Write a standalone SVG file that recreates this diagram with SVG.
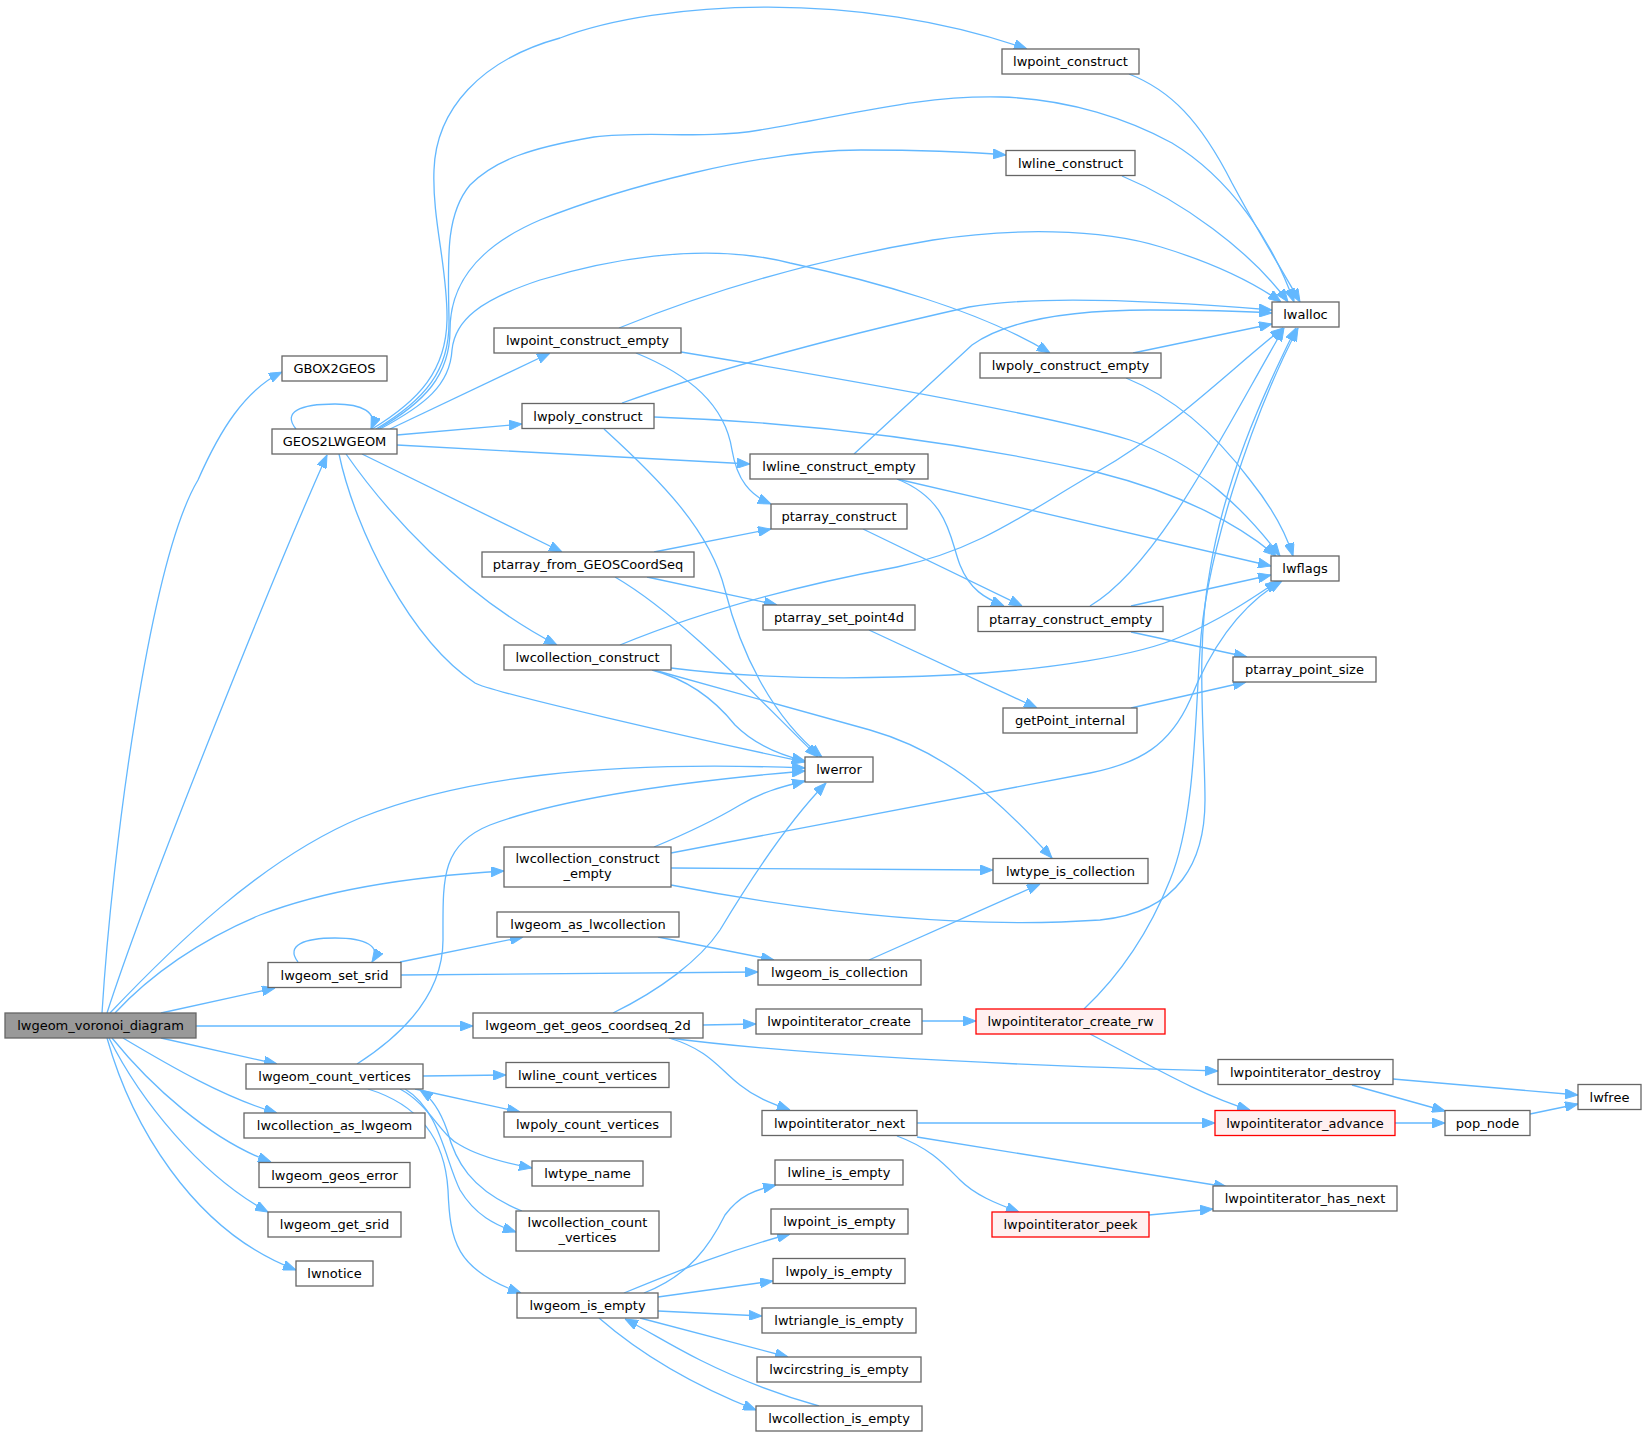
<svg xmlns="http://www.w3.org/2000/svg" width="1647" height="1437" viewBox="0 0 1647 1437">
<defs>
<marker id="a" viewBox="0 0 13 10" refX="13" refY="5" markerWidth="13" markerHeight="10" orient="auto" markerUnits="userSpaceOnUse"><path d="M0,0 L13,5 L0,10 z" fill="#63b8ff" stroke="#63b8ff" stroke-width="1"/></marker>
</defs>
<style>
.e{fill:none;stroke:#63b8ff;stroke-width:1.3;marker-end:url(#a)}
.n rect{fill:#ffffff;stroke:#666666;stroke-width:1.3}
.r rect{fill:#fff0f0;stroke:#ff0000;stroke-width:1.3}
.root rect{fill:#999999;stroke:#666666;stroke-width:1.3}
text{font-family:"DejaVu Sans","Liberation Sans",sans-serif;font-size:13px;fill:#000000;text-anchor:middle}
</style>
<rect x="0" y="0" width="1647" height="1437" fill="#ffffff"/>
<g id="edges">
<path class="e" d="M102,1013 C112,850 150,560 198,480 C220,430 245,390 282,372"/>
<path class="e" d="M107,1013 C150,880 280,560 327,455"/>
<path class="e" d="M110,1013 C170,950 260,860 360,818 C460,778 600,760 805,768"/>
<path class="e" d="M115,1013 C150,975 200,940 260,915 C330,888 420,876 504,871"/>
<path class="e" d="M161,1013 L275,988"/>
<path class="e" d="M196,1026 L473,1026"/>
<path class="e" d="M161,1038 L277,1064"/>
<path class="e" d="M123,1038 C170,1066 225,1098 277,1113"/>
<path class="e" d="M112,1038 C150,1085 210,1140 271,1162"/>
<path class="e" d="M109,1038 C140,1100 200,1175 268,1212"/>
<path class="e" d="M107,1038 C130,1120 190,1230 296,1270"/>
<path class="e" d="M296,429 C282,412 300,404 335,404 C362,404 378,412 371,429"/>
<path class="e" d="M372,429 C420,400 446,370 447,320 C448,270 432,220 434,170 C436,110 480,60 560,38 C660,0 860,-10 1027,49"/>
<path class="e" d="M376,429 C425,400 450,370 449,320 C448,260 445,215 470,185 C495,160 530,148 594,137 C650,130 700,140 760,130 C850,115 920,95 1001,97 C1070,99 1130,120 1172,143 C1230,178 1272,240 1294,302"/>
<path class="e" d="M378,429 C425,402 450,375 450,330 C450,290 470,250 540,220 C620,188 760,150 861,150 C920,150 970,152 1006,155"/>
<path class="e" d="M380,429 C425,405 450,385 452,350 C455,320 480,300 540,280 C600,262 700,240 790,263 C870,280 980,310 1050,353"/>
<path class="e" d="M390,429 L550,353"/>
<path class="e" d="M397,435 L522,424"/>
<path class="e" d="M397,445 L750,464"/>
<path class="e" d="M362,454 L562,552"/>
<path class="e" d="M346,454 C385,510 460,595 557,645"/>
<path class="e" d="M339,454 C355,530 410,640 475,683 C490,692 700,740 805,762"/>
<path class="e" d="M1129,74 C1170,90 1200,120 1232,183 C1260,235 1282,270 1300,302"/>
<path class="e" d="M1122,176 C1180,200 1250,250 1288,302"/>
<path class="e" d="M619,328 C700,295 800,262 933,240 C1010,228 1100,228 1161,247 C1210,262 1250,280 1281,302"/>
<path class="e" d="M622,403 C700,375 800,345 969,307 C1030,296 1150,300 1272,310"/>
<path class="e" d="M854,454 L972,345 C1010,318 1080,310 1150,310 C1200,310 1240,311 1272,313"/>
<path class="e" d="M1133,353 L1272,324"/>
<path class="e" d="M681,352 C850,380 1050,415 1130,440 C1200,465 1245,510 1280,556"/>
<path class="e" d="M654,417 C800,422 950,440 1100,473 C1180,493 1240,525 1276,556"/>
<path class="e" d="M1126,378 C1180,400 1220,440 1250,480 C1270,505 1285,530 1293,556"/>
<path class="e" d="M897,479 L1271,566"/>
<path class="e" d="M1131,606 L1271,575"/>
<path class="e" d="M671,668 C750,678 850,680 950,675 C1050,670 1140,655 1180,637 C1220,620 1250,600 1278,581"/>
<path class="e" d="M671,853 L1090,773 C1140,763 1170,745 1190,700 C1210,650 1240,605 1282,581"/>
<path class="e" d="M636,353 C690,375 725,405 732,450 C737,480 750,495 771,504"/>
<path class="e" d="M604,429 C660,480 710,530 725,590 C740,650 770,715 822,757"/>
<path class="e" d="M654,552 L771,529"/>
<path class="e" d="M647,577 L777,605"/>
<path class="e" d="M615,577 C680,615 750,690 818,757"/>
<path class="e" d="M863,529 L1022,606"/>
<path class="e" d="M897,479 C950,500 950,540 960,565 C970,590 985,598 1004,606"/>
<path class="e" d="M1090,606 C1160,565 1230,420 1284,328"/>
<path class="e" d="M1131,632 L1247,657"/>
<path class="e" d="M869,630 L1037,708"/>
<path class="e" d="M1131,708 L1246,682"/>
<path class="e" d="M620,645 C700,612 800,585 897,567 C980,550 1030,510 1100,470 C1170,430 1230,370 1283,328"/>
<path class="e" d="M654,670 L870,730 C940,750 990,790 1052,858"/>
<path class="e" d="M652,670 C690,680 715,700 735,725 C755,745 780,755 805,761"/>
<path class="e" d="M654,847 C690,832 715,820 740,805 C760,793 780,787 805,781"/>
<path class="e" d="M671,868 L993,870"/>
<path class="e" d="M671,885 C800,910 950,930 1100,920 C1180,912 1205,860 1205,800 C1205,740 1195,650 1210,570 C1225,480 1260,400 1296,328"/>
<path class="e" d="M298,962 C285,945 305,938 335,938 C365,938 382,946 372,962"/>
<path class="e" d="M400,962 L523,937"/>
<path class="e" d="M401,975 L758,972"/>
<path class="e" d="M658,937 L774,960"/>
<path class="e" d="M869,960 L1040,884"/>
<path class="e" d="M357,1064 C410,1030 443,990 443,940 C443,880 440,845 490,825 C570,795 700,780 805,771"/>
<path class="e" d="M423,1076 L506,1075"/>
<path class="e" d="M415,1089 L520,1112"/>
<path class="e" d="M400,1089 C430,1105 440,1135 460,1145 C480,1157 505,1163 532,1168"/>
<path class="e" d="M405,1089 C440,1110 445,1160 460,1190 C475,1215 495,1225 516,1232"/>
<path class="e" d="M368,1089 C420,1105 445,1140 448,1190 C450,1240 455,1270 521,1293"/>
<path class="e" d="M522,1211 C470,1190 455,1160 447,1130 C440,1110 432,1098 420,1090"/>
<path class="e" d="M613,1013 C660,990 700,960 720,930 C750,880 790,820 826,783"/>
<path class="e" d="M703,1025 L756,1024"/>
<path class="e" d="M669,1038 C800,1055 1000,1065 1218,1071"/>
<path class="e" d="M669,1038 C710,1050 720,1070 740,1085 C755,1097 770,1103 790,1110"/>
<path class="e" d="M922,1021 L976,1021"/>
<path class="e" d="M1084,1009 C1120,975 1150,930 1170,880 C1195,820 1195,720 1200,650 C1205,560 1250,420 1298,328"/>
<path class="e" d="M1090,1034 C1150,1065 1200,1095 1250,1110"/>
<path class="e" d="M1393,1079 L1578,1095"/>
<path class="e" d="M1352,1085 L1445,1111"/>
<path class="e" d="M1395,1123 L1445,1123"/>
<path class="e" d="M1530,1114 L1578,1104"/>
<path class="e" d="M917,1123 L1215,1123"/>
<path class="e" d="M917,1137 L1227,1187"/>
<path class="e" d="M897,1136 C930,1148 945,1165 960,1180 C975,1195 995,1203 1019,1212"/>
<path class="e" d="M1149,1215 L1213,1209"/>
<path class="e" d="M644,1293 C690,1275 710,1245 725,1215 C740,1195 755,1190 776,1185"/>
<path class="e" d="M624,1293 C680,1270 730,1250 790,1234"/>
<path class="e" d="M658,1297 L773,1281"/>
<path class="e" d="M658,1311 L762,1316"/>
<path class="e" d="M640,1318 L788,1357"/>
<path class="e" d="M599,1318 C630,1345 680,1380 756,1410"/>
<path class="e" d="M819,1406 C780,1395 740,1380 700,1360 C670,1345 650,1332 625,1319"/>
</g>
<g id="n_voronoi" class="root"><rect x="5" y="1013" width="191" height="25"/><text x="100.5" y="1030">lwgeom_voronoi_diagram</text></g>
<g id="n_gbox2geos" class="n"><rect x="282" y="356" width="105" height="25"/><text x="334.5" y="373">GBOX2GEOS</text></g>
<g id="n_geos2lwgeom" class="n"><rect x="272" y="429" width="125" height="25"/><text x="334.5" y="446">GEOS2LWGEOM</text></g>
<g id="n_lwpoint_construct" class="n"><rect x="1002" y="49" width="137" height="25"/><text x="1070.5" y="66">lwpoint_construct</text></g>
<g id="n_lwline_construct" class="n"><rect x="1006" y="150.5" width="129" height="25"/><text x="1070.5" y="167.5">lwline_construct</text></g>
<g id="n_lwalloc" class="n"><rect x="1272" y="302" width="67" height="25"/><text x="1305.5" y="319">lwalloc</text></g>
<g id="n_lwpoint_construct_empty" class="n"><rect x="494" y="328" width="187" height="25"/><text x="587.5" y="345">lwpoint_construct_empty</text></g>
<g id="n_lwpoly_construct_empty" class="n"><rect x="980" y="353" width="181" height="25"/><text x="1070.5" y="370">lwpoly_construct_empty</text></g>
<g id="n_lwpoly_construct" class="n"><rect x="522" y="403.5" width="132" height="25"/><text x="588" y="420.5">lwpoly_construct</text></g>
<g id="n_lwline_construct_empty" class="n"><rect x="750" y="454" width="178" height="25"/><text x="839" y="471">lwline_construct_empty</text></g>
<g id="n_ptarray_construct" class="n"><rect x="771" y="504" width="136" height="25"/><text x="839" y="521">ptarray_construct</text></g>
<g id="n_ptarray_from_GEOSCoordSeq" class="n"><rect x="482" y="552" width="212" height="25"/><text x="588" y="569">ptarray_from_GEOSCoordSeq</text></g>
<g id="n_lwflags" class="n"><rect x="1271" y="556" width="68" height="25"/><text x="1305" y="573">lwflags</text></g>
<g id="n_ptarray_set_point4d" class="n"><rect x="763" y="605" width="152" height="25"/><text x="839" y="622">ptarray_set_point4d</text></g>
<g id="n_ptarray_construct_empty" class="n"><rect x="978" y="606.5" width="185" height="25"/><text x="1070.5" y="623.5">ptarray_construct_empty</text></g>
<g id="n_lwcollection_construct" class="n"><rect x="504" y="645" width="167" height="25"/><text x="587.5" y="662">lwcollection_construct</text></g>
<g id="n_ptarray_point_size" class="n"><rect x="1233" y="657" width="143" height="25"/><text x="1304.5" y="674">ptarray_point_size</text></g>
<g id="n_getPoint_internal" class="n"><rect x="1003" y="708" width="134" height="25"/><text x="1070" y="725">getPoint_internal</text></g>
<g id="n_lwerror" class="n"><rect x="805" y="757" width="68" height="25"/><text x="839" y="774">lwerror</text></g>
<g id="n_lwcollection_construct_empty" class="n"><rect x="504" y="847" width="167" height="40"/><text x="587.5" y="863">lwcollection_construct</text><text x="587.5" y="878">_empty</text></g>
<g id="n_lwtype_is_collection" class="n"><rect x="993" y="858.5" width="155" height="25"/><text x="1070.5" y="875.5">lwtype_is_collection</text></g>
<g id="n_lwgeom_as_lwcollection" class="n"><rect x="497" y="912" width="182" height="25"/><text x="588" y="929">lwgeom_as_lwcollection</text></g>
<g id="n_lwgeom_is_collection" class="n"><rect x="758" y="960" width="163" height="25"/><text x="839.5" y="977">lwgeom_is_collection</text></g>
<g id="n_lwgeom_set_srid" class="n"><rect x="268" y="962.5" width="133" height="25"/><text x="334.5" y="979.5">lwgeom_set_srid</text></g>
<g id="n_lwgeom_get_geos_coordseq_2d" class="n"><rect x="473" y="1013" width="230" height="25"/><text x="588" y="1030">lwgeom_get_geos_coordseq_2d</text></g>
<g id="n_lwpointiterator_create" class="n"><rect x="756" y="1009" width="166" height="25"/><text x="839" y="1026">lwpointiterator_create</text></g>
<g id="n_lwpointiterator_create_rw" class="r"><rect x="976" y="1009" width="189" height="25"/><text x="1070.5" y="1026">lwpointiterator_create_rw</text></g>
<g id="n_lwgeom_count_vertices" class="n"><rect x="246" y="1064" width="177" height="25"/><text x="334.5" y="1081">lwgeom_count_vertices</text></g>
<g id="n_lwline_count_vertices" class="n"><rect x="506" y="1062.5" width="163" height="25"/><text x="587.5" y="1079.5">lwline_count_vertices</text></g>
<g id="n_lwpointiterator_destroy" class="n"><rect x="1218" y="1059.5" width="175" height="25"/><text x="1305.5" y="1076.5">lwpointiterator_destroy</text></g>
<g id="n_lwfree" class="n"><rect x="1578" y="1084.5" width="63" height="25"/><text x="1609.5" y="1101.5">lwfree</text></g>
<g id="n_lwcollection_as_lwgeom" class="n"><rect x="244" y="1113" width="181" height="25"/><text x="334.5" y="1130">lwcollection_as_lwgeom</text></g>
<g id="n_lwpoly_count_vertices" class="n"><rect x="504" y="1112" width="167" height="25"/><text x="587.5" y="1129">lwpoly_count_vertices</text></g>
<g id="n_lwpointiterator_next" class="n"><rect x="762" y="1110.5" width="155" height="25"/><text x="839.5" y="1127.5">lwpointiterator_next</text></g>
<g id="n_lwpointiterator_advance" class="r"><rect x="1215" y="1110.5" width="180" height="25"/><text x="1305" y="1127.5">lwpointiterator_advance</text></g>
<g id="n_pop_node" class="n"><rect x="1445" y="1110.5" width="85" height="25"/><text x="1487.5" y="1127.5">pop_node</text></g>
<g id="n_lwgeom_geos_error" class="n"><rect x="259" y="1162.5" width="151" height="25"/><text x="334.5" y="1179.5">lwgeom_geos_error</text></g>
<g id="n_lwtype_name" class="n"><rect x="532" y="1161" width="111" height="25"/><text x="587.5" y="1178">lwtype_name</text></g>
<g id="n_lwline_is_empty" class="n"><rect x="775" y="1160" width="128" height="25"/><text x="839" y="1177">lwline_is_empty</text></g>
<g id="n_lwpointiterator_has_next" class="n"><rect x="1213" y="1186" width="184" height="25"/><text x="1305" y="1203">lwpointiterator_has_next</text></g>
<g id="n_lwgeom_get_srid" class="n"><rect x="268" y="1212" width="133" height="25"/><text x="334.5" y="1229">lwgeom_get_srid</text></g>
<g id="n_lwcollection_count_vertices" class="n"><rect x="516" y="1211" width="143" height="40"/><text x="587.5" y="1227">lwcollection_count</text><text x="587.5" y="1242">_vertices</text></g>
<g id="n_lwpoint_is_empty" class="n"><rect x="771" y="1209" width="137" height="25"/><text x="839.5" y="1226">lwpoint_is_empty</text></g>
<g id="n_lwpointiterator_peek" class="r"><rect x="992" y="1212" width="157" height="25"/><text x="1070.5" y="1229">lwpointiterator_peek</text></g>
<g id="n_lwnotice" class="n"><rect x="296" y="1261" width="77" height="25"/><text x="334.5" y="1278">lwnotice</text></g>
<g id="n_lwpoly_is_empty" class="n"><rect x="773" y="1258.5" width="132" height="25"/><text x="839" y="1275.5">lwpoly_is_empty</text></g>
<g id="n_lwgeom_is_empty" class="n"><rect x="517" y="1293" width="141" height="25"/><text x="587.5" y="1310">lwgeom_is_empty</text></g>
<g id="n_lwtriangle_is_empty" class="n"><rect x="762" y="1308" width="154" height="25"/><text x="839" y="1325">lwtriangle_is_empty</text></g>
<g id="n_lwcircstring_is_empty" class="n"><rect x="757" y="1357" width="164" height="25"/><text x="839" y="1374">lwcircstring_is_empty</text></g>
<g id="n_lwcollection_is_empty" class="n"><rect x="756" y="1406" width="166" height="25"/><text x="839" y="1423">lwcollection_is_empty</text></g>
</svg>
